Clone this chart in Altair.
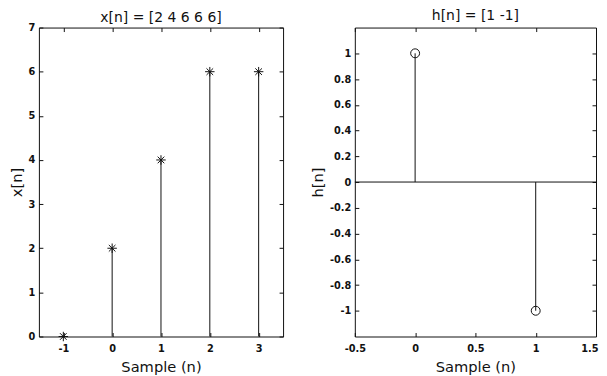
import altair as alt
import pandas as pd

# ---- data ----
x_n = [-1, 0, 1, 2, 3]
x_vals = [0, 2, 4, 6, 6]
h_n = [0, 1]
h_vals = [1, -1]

x_xticks = [-1, 0, 1, 2, 3]
x_yticks = [0, 1, 2, 3, 4, 5, 6, 7]
h_xticks = [-0.5, 0, 0.5, 1, 1.5]
h_yticks = [-1, -0.8, -0.6, -0.4, -0.2, 0, 0.2, 0.4, 0.6, 0.8, 1]

x_title = "x[n] = [2 4 6 6 6]"
h_title = "h[n] = [1 -1]"
x_label = "Sample (n)"

FONT = "DejaVu Sans"
H = 310
INK = "#111111"

df_x = pd.DataFrame({"n": x_n, "v": x_vals, "zero": [0] * len(x_n)})
df_h = pd.DataFrame({"n": h_n, "v": h_vals, "zero": [0] * len(h_n)})
df_base = pd.DataFrame({"b": [0]})


def axis(orient, values, title=None, labels=True, last=None):
    pad = 7 if orient in ("bottom", "top") else 4
    kw = dict(orient=orient, values=values, labels=labels, domain=False,
              ticks=True, tickSize=4, offset=-4, labelPadding=pad,
              tickColor=INK, labelColor=INK, labelFont=FONT, labelFontSize=9.8,
              labelFontWeight="bold", titleFont=FONT, titleFontSize=14.7,
              titleFontWeight="normal", titleColor=INK, grid=False,
              labelExpr="'' + datum.value", labelFlush=False, labelOverlap=False,
              title=title)
    if title is not None:
        kw["titlePadding"] = 6 if orient == "bottom" else 4
    if last is not None:
        kw["labelAlign"] = alt.ExprRef(expr=f"datum.value == {last} ? 'right' : 'center'")
        kw["labelOffset"] = alt.ExprRef(expr=f"datum.value == {last} ? 2 : 0")
    return alt.Axis(**kw)


def panel(df, W, xdom, ydom, xticks, yticks, ytitle, title, shape, size, baseline,
          toff, last=None):
    xs = alt.Scale(domain=xdom, nice=False, zero=False)
    ys = alt.Scale(domain=ydom, nice=False, zero=False)
    stems = alt.Chart(df).mark_rule(color=INK, strokeWidth=1).encode(
        x=alt.X("n:Q", scale=xs, axis=axis("bottom", xticks, x_label, last=last)),
        y=alt.Y("zero:Q", scale=ys, axis=axis("left", yticks, ytitle)),
        y2="v:Q",
    )
    marks = alt.Chart(df).mark_point(shape=shape, size=size, filled=False,
                                     stroke=INK, strokeWidth=1, opacity=1).encode(
        x=alt.X("n:Q", scale=xs, axis=axis("top", xticks, None, labels=False)),
        y=alt.Y("v:Q", scale=ys, axis=axis("right", yticks, None, labels=False)),
    )
    layers = [stems, marks]
    if baseline:
        base = alt.Chart(df_base).mark_rule(color=INK, strokeWidth=1).encode(
            y=alt.Y("b:Q", scale=ys, axis=None)
        )
        layers.insert(0, base)
    return alt.layer(*layers).resolve_axis(x="independent", y="independent").properties(
        width=W, height=H,
        title=alt.TitleParams(title, font=FONT, fontSize=14, fontWeight="normal",
                              color=INK, offset=toff, frame="group"),
    )


asterisk = "M-1,0L1,0M0,-1L0,1M-0.7,-0.7L0.7,0.7M-0.7,0.7L0.7,-0.7"

left = panel(df_x, 245, [-1.5, 3.5], [0, 7], x_xticks, x_yticks, "x[n]", x_title,
             asterisk, 90, False, -2)
right = panel(df_h, 242, [-0.5, 1.5], [-1.2, 1.2], h_xticks, h_yticks, "h[n]", h_title,
              "circle", 80, True, 4, last=1.5)

chart = alt.hconcat(left, right, spacing=26).properties(
    padding={"left": 0, "top": 0, "right": 0, "bottom": 0},
    background="white",
).configure_view(stroke=INK, strokeWidth=1)

chart.save("out.html", embed_options={"renderer": "svg", "actions": False})
